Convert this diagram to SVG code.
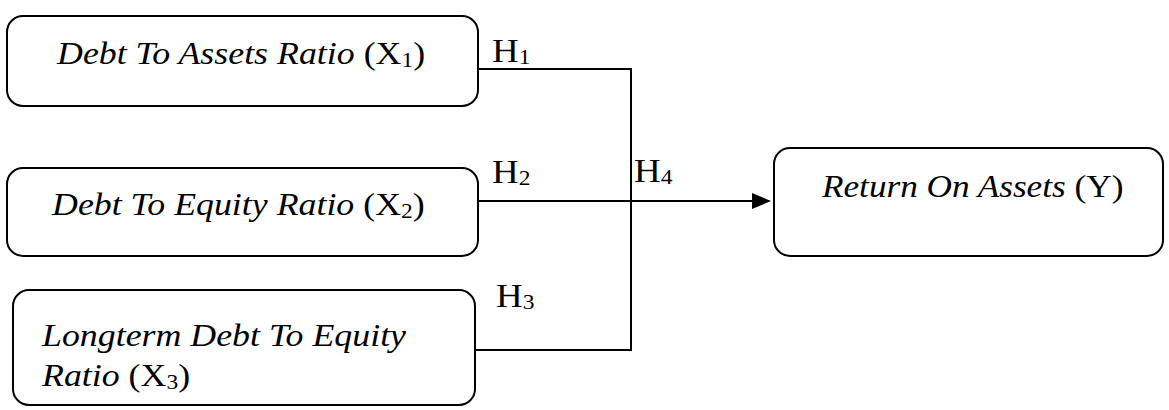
<svg xmlns="http://www.w3.org/2000/svg" width="1169" height="410" viewBox="0 0 1169 410">
<defs>
<style>
.box{fill:#fff;stroke:#000;stroke-width:2}
.t{font-family:"Liberation Serif","Times New Roman",serif;font-size:32px;fill:#000}
.h{font-size:33px}
.i{font-style:italic}
.s{font-size:21px}
.c{fill:none;stroke:#000;stroke-width:2}
</style>
</defs>
<rect width="1169" height="410" fill="#fff"/>
<g id="connectors">
<polyline class="c" points="478,69 631,69 631,350 475,350"/>
<line class="c" x1="478" y1="201" x2="756" y2="201"/>
<path d="M752,193 L771,201 L752,209 z" fill="#000"/>
<text class="t h" transform="translate(492,62) scale(1.12,1)">H<tspan class="s" dy="2">1</tspan></text>
<text class="t h" transform="translate(492,183) scale(1.12,1)">H<tspan class="s" dy="2">2</tspan></text>
<text class="t h" transform="translate(496,307) scale(1.12,1)">H<tspan class="s" dy="2">3</tspan></text>
<text class="t h" transform="translate(634,182) scale(1.12,1)">H<tspan class="s" dy="2">4</tspan></text>
</g>
<g id="x1">
<rect class="box" x="7" y="16" width="471" height="90" rx="16"/>
<text class="t" transform="translate(57,64) scale(1.12,1)"><tspan class="i">Debt To Assets Ratio</tspan> (X<tspan class="s" dy="3">1</tspan><tspan dy="-3">)</tspan></text>
</g>
<g id="x2">
<rect class="box" x="7" y="168" width="471" height="88" rx="16"/>
<text class="t" transform="translate(52,215) scale(1.12,1)"><tspan class="i">Debt To Equity Ratio</tspan> (X<tspan class="s" dy="3">2</tspan><tspan dy="-3">)</tspan></text>
</g>
<g id="x3">
<rect class="box" x="13" y="290" width="462" height="115" rx="16"/>
<text class="t" transform="translate(42,346) scale(1.12,1)"><tspan class="i">Longterm Debt To Equity</tspan></text>
<text class="t" transform="translate(42,386) scale(1.12,1)"><tspan class="i">Ratio</tspan> (X<tspan class="s" dy="3">3</tspan><tspan dy="-3">)</tspan></text>
</g>
<g id="y">
<rect class="box" x="774" y="148" width="389" height="108" rx="16"/>
<text class="t" transform="translate(822,197) scale(1.1,1)"><tspan class="i">Return On Assets</tspan> (Y)</text>
</g>
</svg>
